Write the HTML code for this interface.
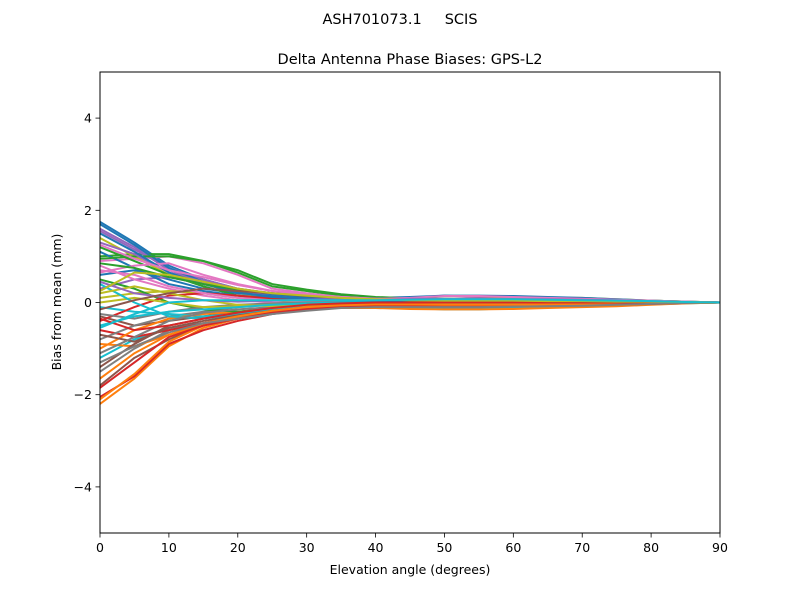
<!DOCTYPE html>
<html><head><meta charset="utf-8"><style>
body{margin:0;background:#fff;}
svg{display:block;font-family:"DejaVu Sans","Liberation Sans",sans-serif;}
</style></head><body>
<svg id="chart" width="800" height="600" viewBox="0 0 800 600">
<rect width="800" height="600" fill="#fff"/>
<text x="400" y="24" text-anchor="middle" font-size="14.5" style="white-space:pre" xml:space="preserve">ASH701073.1     SCIS</text>
<text x="410" y="64" text-anchor="middle" font-size="14.5">Delta Antenna Phase Biases: GPS-L2</text>
<g id="lines"></g>
<rect x="100" y="72" width="620" height="461" fill="none" stroke="#000" stroke-width="1"/>
<g id="xticks"></g>
<g id="yticks"></g>
<text x="410" y="574" text-anchor="middle" font-size="12.5">Elevation angle (degrees)</text>
<text transform="translate(61,302) rotate(-90)" text-anchor="middle" font-size="12.5">Bias from mean (mm)</text>
</svg>
<script>
const elevations=[0,5,10,15,20,25,30,35,40,45,50,55,60,65,70,75,80,85,90];
const xTickLabels=[0,10,20,30,40,50,60,70,80,90];
const yTickLabels=[-4,-2,0,2,4];
const s1=[1.75,1.3,0.8,0.5,0.3,0.15,0.1,0.05,0.05,0.05,0.05,0.05,0.04,0.04,0.04,0.03,0.02,0.01,0];
const s2=[-2.2,-1.65,-0.95,-0.55,-0.35,-0.2,-0.12,-0.08,-0.06,-0.05,-0.05,-0.05,-0.04,-0.04,-0.04,-0.03,-0.02,-0.01,0];
const s3=[1.0,1.05,1.05,0.9,0.65,0.35,0.25,0.15,0.1,0.08,0.08,0.07,0.07,0.06,0.06,0.05,0.04,0.02,0];
const s4=[-2.05,-1.6,-0.9,-0.6,-0.4,-0.25,-0.15,-0.1,-0.08,-0.07,-0.07,-0.06,-0.06,-0.05,-0.05,-0.04,-0.03,-0.01,0];
const s5=[1.6,1.2,0.7,0.45,0.25,0.12,0.08,0.05,0.04,0.1,0.15,0.12,0.1,0.08,0.07,0.05,0.03,0.01,0];
const s6=[-1.8,-1.2,-0.8,-0.5,-0.3,-0.2,-0.1,-0.05,-0.03,-0.02,-0.02,-0.02,-0.02,-0.02,-0.02,-0.02,-0.01,0,0];
const s7=[0.9,0.95,1.0,0.85,0.6,0.3,0.2,0.12,0.08,0.06,0.05,0.05,0.05,0.04,0.04,0.03,0.02,0.01,0];
const s8=[-1.5,-1.0,-0.6,-0.45,-0.3,-0.2,-0.12,-0.1,-0.08,-0.1,-0.12,-0.12,-0.1,-0.08,-0.07,-0.05,-0.03,-0.01,0];
const s9=[1.4,1.0,0.6,0.4,0.2,0.1,0.05,0.02,0.02,0.05,0.08,0.08,0.08,0.1,0.1,0.07,0.04,0.02,0];
const s10=[-1.2,-0.8,-0.55,-0.45,-0.35,-0.25,-0.15,-0.1,-0.1,-0.12,-0.15,-0.15,-0.12,-0.1,-0.08,-0.06,-0.04,-0.02,0];
const s11=[0.6,0.7,0.5,0.3,0.2,0.15,0.1,0.08,0.06,0.05,0.04,0.04,0.03,0.03,0.03,0.02,0.02,0.01,0];
const s12=[-0.9,-0.95,-0.7,-0.5,-0.35,-0.2,-0.1,-0.05,-0.03,-0.02,-0.02,-0.02,-0.02,-0.02,-0.02,-0.01,-0.01,0,0];
const s13=[1.2,0.9,0.6,0.35,0.15,0.05,0.0,-0.02,-0.03,-0.03,-0.03,-0.03,-0.02,-0.02,-0.02,-0.01,-0.01,0,0];
const s14=[-0.6,-0.75,-0.6,-0.45,-0.3,-0.2,-0.12,-0.08,-0.05,-0.04,-0.04,-0.03,-0.03,-0.03,-0.02,-0.02,-0.01,0,0];
const s15=[0.3,0.5,0.55,0.4,0.25,0.18,0.12,0.1,0.08,0.07,0.06,0.05,0.05,0.05,0.04,0.03,0.02,0.01,0];
const s16=[-0.3,-0.5,-0.4,-0.3,-0.2,-0.12,-0.08,-0.06,-0.05,-0.05,-0.06,-0.06,-0.06,-0.05,-0.04,-0.03,-0.02,-0.01,0];
const s17=[0.8,0.5,0.3,0.15,0.05,0.0,-0.02,-0.04,-0.05,-0.06,-0.06,-0.06,-0.05,-0.05,-0.04,-0.03,-0.02,-0.01,0];
const s18=[-0.8,-0.5,-0.3,-0.2,-0.1,-0.05,0.0,0.02,0.03,0.03,0.03,0.03,0.03,0.03,0.02,0.02,0.01,0,0];
const s19=[0.1,0.2,0.25,0.2,0.1,0.05,0.02,0.0,-0.02,-0.03,-0.03,-0.03,-0.02,-0.02,-0.02,-0.01,-0.01,0,0];
const s20=[-0.1,-0.2,-0.25,-0.3,-0.25,-0.15,-0.1,-0.05,-0.03,-0.02,-0.02,-0.02,-0.02,-0.02,-0.01,-0.01,-0.01,0,0];
const s21=[1.1,0.75,0.4,0.25,0.15,0.1,0.1,0.1,0.1,0.12,0.15,0.15,0.14,0.12,0.1,0.07,0.04,0.02,0];
const s22=[-1.0,-0.6,-0.35,-0.25,-0.2,-0.15,-0.12,-0.12,-0.12,-0.14,-0.15,-0.15,-0.14,-0.12,-0.1,-0.08,-0.05,-0.02,0];
const s23=[0.5,0.3,0.0,-0.15,-0.2,-0.15,-0.1,-0.06,-0.04,-0.03,-0.03,-0.03,-0.02,-0.02,-0.02,-0.01,-0.01,0,0];
const s24=[-0.4,-0.1,0.15,0.2,0.15,0.08,0.04,0.02,0.01,0.01,0.01,0.01,0.01,0.01,0.01,0,0,0,0];
const s25=[1.55,1.15,0.75,0.5,0.3,0.2,0.15,0.1,0.06,0.04,0.03,0.03,0.02,0.02,0.02,0.01,0.01,0,0];
const s26=[-1.4,-0.9,-0.5,-0.35,-0.25,-0.18,-0.12,-0.08,-0.05,-0.03,-0.02,-0.02,-0.02,-0.02,-0.02,-0.01,-0.01,0,0];
const s27=[0.7,0.6,0.35,0.2,0.1,0.05,0.03,0.02,0.02,0.04,0.06,0.07,0.08,0.08,0.07,0.05,0.03,0.01,0];
const s28=[-0.25,-0.35,-0.2,-0.1,-0.05,-0.02,0.0,0.01,0.02,0.02,0.02,0.02,0.02,0.02,0.01,0.01,0,0,0];
const s29=[0.0,0.1,0.0,-0.1,-0.08,-0.05,-0.03,-0.02,-0.01,0,0,0,0,0,0,0,0,0,0];
const s30=[0.4,0.0,-0.3,-0.35,-0.25,-0.15,-0.08,-0.04,-0.02,-0.01,-0.01,-0.01,-0.01,-0.01,-0.01,0,0,0,0];
const s31=[1.7,1.25,0.75,0.45,0.28,0.18,0.12,0.08,0.06,0.05,0.05,0.04,0.04,0.04,0.03,0.03,0.02,0.01,0];
const s32=[-2.1,-1.55,-0.85,-0.5,-0.3,-0.18,-0.1,-0.06,-0.05,-0.04,-0.04,-0.04,-0.03,-0.03,-0.03,-0.02,-0.01,0,0];
const s33=[0.95,1.0,1.0,0.9,0.7,0.4,0.28,0.18,0.12,0.09,0.08,0.07,0.07,0.06,0.05,0.04,0.03,0.01,0];
const s34=[-1.85,-1.3,-0.75,-0.5,-0.35,-0.22,-0.14,-0.1,-0.08,-0.08,-0.08,-0.07,-0.07,-0.06,-0.05,-0.04,-0.03,-0.01,0];
const s35=[1.3,1.05,0.65,0.45,0.3,0.2,0.15,0.1,0.08,0.07,0.07,0.06,0.06,0.05,0.05,0.04,0.03,0.01,0];
const s36=[-0.7,-0.85,-0.55,-0.4,-0.28,-0.18,-0.1,-0.06,-0.04,-0.03,-0.03,-0.03,-0.03,-0.02,-0.02,-0.02,-0.01,0,0];
const s37=[0.65,0.8,0.85,0.6,0.4,0.25,0.18,0.12,0.08,0.1,0.14,0.14,0.12,0.1,0.08,0.06,0.04,0.02,0];
const s38=[-1.1,-0.75,-0.4,-0.22,-0.15,-0.1,-0.05,-0.03,-0.02,-0.02,-0.02,-0.02,-0.02,-0.01,-0.01,-0.01,0,0,0];
const s39=[0.2,0.35,0.2,0.05,-0.05,-0.08,-0.06,-0.04,-0.03,-0.03,-0.03,-0.03,-0.03,-0.02,-0.02,-0.01,-0.01,0,0];
const s40=[-0.5,-0.3,-0.2,-0.15,-0.1,-0.05,-0.02,0,0.02,0.04,0.05,0.05,0.05,0.04,0.04,0.03,0.02,0.01,0];
const s41=[1.5,1.1,0.65,0.4,0.22,0.12,0.08,0.05,0.04,0.03,0.03,0.03,0.03,0.02,0.02,0.02,0.01,0,0];
const s42=[-1.65,-1.1,-0.7,-0.45,-0.3,-0.18,-0.1,-0.06,-0.04,-0.04,-0.05,-0.05,-0.05,-0.04,-0.04,-0.03,-0.02,-0.01,0];
const s43=[0.85,0.75,0.55,0.4,0.28,0.2,0.14,0.1,0.07,0.05,0.05,0.05,0.05,0.04,0.04,0.03,0.02,0.01,0];
const s44=[-0.35,-0.6,-0.5,-0.35,-0.22,-0.12,-0.05,-0.02,0,0,0,0,0,0,0,0,0,0,0];
const s45=[0.45,0.2,0.1,0.05,0.02,0.04,0.06,0.08,0.08,0.08,0.08,0.08,0.07,0.07,0.06,0.05,0.03,0.01,0];
const s46=[-0.15,0.05,0.2,0.3,0.25,0.2,0.14,0.1,0.07,0.05,0.04,0.04,0.04,0.03,0.03,0.02,0.02,0.01,0];
const s47=[1.25,0.95,0.7,0.55,0.38,0.25,0.18,0.12,0.08,0.06,0.05,0.05,0.05,0.05,0.04,0.03,0.02,0.01,0];
const s48=[-1.3,-0.95,-0.65,-0.45,-0.35,-0.25,-0.18,-0.12,-0.1,-0.1,-0.1,-0.1,-0.09,-0.08,-0.07,-0.05,-0.03,-0.01,0];
const s49=[0.25,0.65,0.6,0.45,0.3,0.2,0.15,0.1,0.07,0.05,0.04,0.04,0.04,0.03,0.03,0.02,0.02,0.01,0];
const s50=[-0.55,-0.25,0.0,0.05,0.05,0.05,0.05,0.05,0.05,0.06,0.07,0.07,0.07,0.06,0.05,0.04,0.03,0.01,0];
const seriesList=[s1,s2,s3,s4,s5,s6,s7,s8,s9,s10,s11,s12,s13,s14,s15,s16,s17,s18,s19,s20,s21,s22,s23,s24,s25,s26,s27,s28,s29,s30,s31,s32,s33,s34,s35,s36,s37,s38,s39,s40,s41,s42,s43,s44,s45,s46,s47,s48,s49,s50];

const colors=['#1f77b4','#ff7f0e','#2ca02c','#d62728','#9467bd','#8c564b','#e377c2','#7f7f7f','#bcbd22','#17becf'];
const NS='http://www.w3.org/2000/svg';
const X0=100,X1=720,Y0=533,Y1=72,XMIN=0,XMAX=90,YMIN=-5,YMAX=5;
function xs(v){return X0+(v-XMIN)/(XMAX-XMIN)*(X1-X0);}
function ys(v){return Y0-(v-YMIN)/(YMAX-YMIN)*(Y0-Y1);}
function mk(tag,attrs){const e=document.createElementNS(NS,tag);for(const k in attrs)e.setAttribute(k,attrs[k]);return e;}

const lg=document.getElementById('lines');
seriesList.forEach((s,i)=>{
  const d=s.map((v,j)=>(j?'L':'M')+xs(elevations[j]).toFixed(2)+' '+ys(v).toFixed(2)).join(' ');
  const p=mk('path',{d:d,fill:'none',stroke:colors[i%10],'stroke-width':2,'stroke-linejoin':'round'});
  
  
  lg.appendChild(p);
});
const xg=document.getElementById('xticks');
xTickLabels.forEach(v=>{
  const x=xs(v);
  const l=mk('line',{x1:x,x2:x,y1:Y0,y2:Y0+4.5,stroke:'#000','stroke-width':0.8});
  
  
  xg.appendChild(l);
  const t=mk('text',{x:x,y:Y0+19,'text-anchor':'middle','font-size':12.5});
  t.textContent=String(v);
  
  
  xg.appendChild(t);
});
const yg=document.getElementById('yticks');
yTickLabels.forEach(v=>{
  const y=ys(v);
  const l=mk('line',{x1:X0-4.5,x2:X0,y1:y,y2:y,stroke:'#000','stroke-width':0.8});
  
  
  yg.appendChild(l);
  const t=mk('text',{x:X0-8,y:y+4.5,'text-anchor':'end','font-size':12.5});
  t.textContent=(v<0?'\u2212':'')+Math.abs(v);
  
  
  yg.appendChild(t);
});
</script>
</body></html>
